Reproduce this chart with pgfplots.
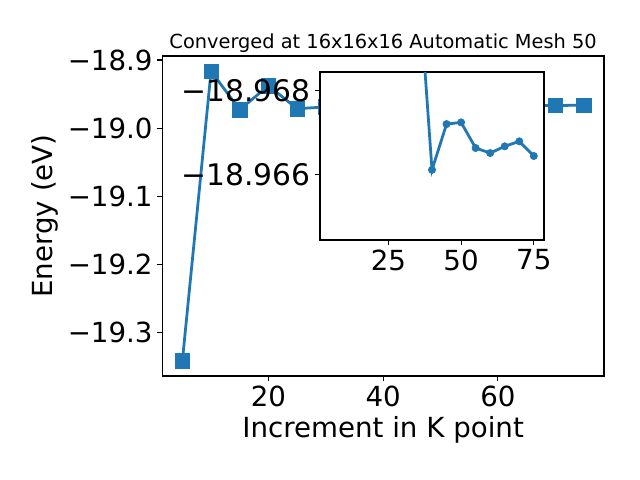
\documentclass[border=0pt]{standalone}
\usepackage{fontspec}
\setmainfont{DejaVu Sans}
\usepackage{pgfplots}
\pgfplotsset{compat=1.18}
\definecolor{mplblue}{HTML}{1F77B4}
\begin{document}
\begin{tikzpicture}
\path[use as bounding box] (0,0) rectangle (6.4in,4.8in);
\begin{axis}[
  at={(1.623in,1.04in)}, anchor=south west, scale only axis,
  width=4.417in, height=3.2in,
  xmin=1.5, xmax=78.5, ymin=-19.3643, ymax=-18.8941,
  xtick={20,40,60}, xticklabels={20,40,60},
  ytick={-19.3,-19.2,-19.1,-19.0,-18.9},
  yticklabels={−19.3,−19.2,−19.1,−19.0,−18.9},
  tick align=outside, xtick pos=bottom, ytick pos=left,
  major tick length=3.5pt, tick style={black, line width=0.8pt},
  ticklabel style={font=\fontsize{20}{24}\selectfont},
  label style={font=\fontsize{20}{24}\selectfont},
  xlabel={Increment in K point}, ylabel={Energy (eV)},
  title={Converged at 16x16x16 Automatic Mesh 50},
  title style={font=\fontsize{14}{17}\selectfont, yshift=-7pt},
  axis line style={line width=0.8pt},
  clip=true,
]
\addplot[color=mplblue, line width=2pt, mark=square*, mark size=5.2pt, mark options={line width=0.5pt}] coordinates {
(5,-19.342) (10,-18.9165) (15,-18.9730) (20,-18.9378) (25,-18.9715) (30,-18.9690) (35,-18.9710)
(40,-18.96612) (45,-18.96721) (50,-18.96725) (55,-18.96664) (60,-18.96652) (65,-18.96668) (70,-18.96680) (75,-18.96645)
};
\end{axis}
\begin{axis}[
  at={(3.20in,2.40in)}, anchor=south west, scale only axis,
  width=2.24in, height=1.68in,
  xmin=1.5, xmax=78.5, ymin=-18.96845, ymax=-18.96445, y dir=reverse,
  axis background/.style={fill=white},
  xtick={25,50,75}, xticklabels={25,50,75},
  ytick={-18.968,-18.966}, yticklabels={−18.968,−18.966},
  tick align=outside, xtick pos=bottom, ytick pos=left,
  major tick length=3.5pt, tick style={black, line width=0.8pt},
  xticklabel style={font=\fontsize{20}{24}\selectfont},
  yticklabel style={font=\fontsize{21.5}{25}\selectfont},
  axis line style={line width=0.8pt},
  scaled y ticks=false,
]
\addplot[color=mplblue, line width=2pt, mark=*, mark size=2.6pt, mark options={line width=0.5pt}] coordinates {
(30,-18.9690) (35,-18.9710)
(40,-18.96612) (45,-18.96721) (50,-18.96725) (55,-18.96664) (60,-18.96652) (65,-18.96668) (70,-18.96680) (75,-18.96645)
};
\end{axis}
\end{tikzpicture}
\end{document}
